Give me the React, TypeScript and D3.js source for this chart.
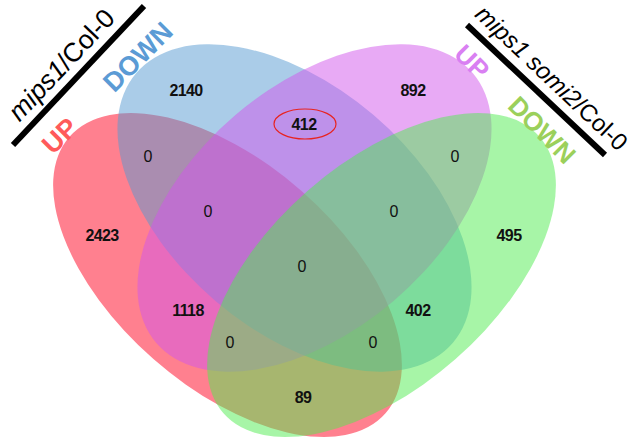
import React from "react";
import * as d3 from "d3";

// ---- data ----
const setNames = ["mips1/Col-0 UP", "mips1/Col-0 DOWN", "mips1 somi2/Col-0 UP", "mips1 somi2/Col-0 DOWN"];
const setColors = ["#FF011F", "#5599D1", "#D155EB", "#4FEB4F"];
const regionKeys = ["A", "B", "C", "D", "AB", "BC", "CD", "ABC", "BCD", "AC", "BD", "ABCD", "ACD", "ABD", "AD"];
const regionCounts = [2423, 2140, 892, 495, 0, 412, 0, 0, 0, 1118, 402, 0, 0, 0, 89];

// ---- layout ----
const W = 642;
const H = 441;
const sx = d3.scaleLinear().domain([0, 1]).range([0, W]);
const sy = d3.scaleLinear().domain([0, 1]).range([0, H]);

const ellipses = [
  { cx: 227.5 / W, cy: 275 / H, a: 210, b: 112, rot: 41.2 },
  { cx: 294.5 / W, cy: 208 / H, a: 208, b: 122, rot: 40.4 },
  { cx: 314.5 / W, cy: 208 / H, a: 208, b: 122, rot: -40.4 },
  { cx: 381.5 / W, cy: 275 / H, a: 210, b: 112, rot: -41.2 },
];

const labelPos: Record<string, [number, number]> = {
  A: [102, 235], B: [186, 90], C: [413, 90], D: [509, 235],
  AB: [148, 156], BC: [304, 124], CD: [455, 156],
  ABC: [208, 211], BCD: [394, 211], AC: [188, 310], BD: [418, 310],
  ABCD: [302, 266], ACD: [230, 342], ABD: [373, 342], AD: [303, 397],
};

export default function App() {
  return (
    <svg
      width={W}
      height={H}
      style={{ position: "absolute", left: 0, top: 0, background: "#fff" }}
      fontFamily="'Liberation Sans', Arial, sans-serif"
    >
      {ellipses.map((e, i) => (
        <ellipse
          key={setNames[i]}
          cx={0}
          cy={0}
          rx={e.a}
          ry={e.b}
          transform={`translate(${sx(e.cx)},${sy(e.cy)}) rotate(${e.rot})`}
          fill={setColors[i]}
          fillOpacity={0.5}
        />
      ))}
      {regionKeys.map((k, i) => {
        const [px, py] = labelPos[k];
        const v = regionCounts[i];
        return (
          <text
            key={k}
            x={px}
            y={py}
            textAnchor="middle"
            dominantBaseline="central"
            fontSize={16}
            fontWeight={v === 0 ? "normal" : "bold"}
            letterSpacing={v === 0 ? 0 : -0.6}
            fill="#111"
          >
            {v}
          </text>
        );
      })}
      {/* highlight ring around 412 */}
      <ellipse cx={305} cy={124} rx={31} ry={15} fill="none" stroke="#E8231F" strokeWidth={1.2} />

      {/* left title */}
      <line x1={13} y1={145} x2={144} y2={6} stroke="#000" strokeWidth={6} />
      <text transform="translate(68,71) rotate(-46.7)" textAnchor="middle" fontSize={26.5} fill="#000">
        <tspan fontStyle="italic">mips1</tspan>/Col-0
      </text>
      <text transform="translate(60,136) rotate(-45)" textAnchor="middle" dominantBaseline="central" fontSize={27} fontWeight="bold" fill="#FF5A5A">UP</text>
      <text transform="translate(138,57) rotate(-45)" textAnchor="middle" dominantBaseline="central" fontSize={27} fontWeight="bold" fill="#5B9BD5">DOWN</text>

      {/* right title */}
      <line x1={467} y1={25} x2={605} y2={155} stroke="#000" strokeWidth={6} />
      <text transform="translate(546,84) rotate(43.3)" textAnchor="middle" fontSize={24} fill="#000">
        <tspan fontStyle="italic">mips1 somi2</tspan>/Col-0
      </text>
      <text transform="translate(472,62) rotate(45)" textAnchor="middle" dominantBaseline="central" fontSize={26} fontWeight="bold" fill="#D980F2">UP</text>
      <text transform="translate(542,130) rotate(45)" textAnchor="middle" dominantBaseline="central" fontSize={26} fontWeight="bold" fill="#9BD05B">DOWN</text>
    </svg>
  );
}
